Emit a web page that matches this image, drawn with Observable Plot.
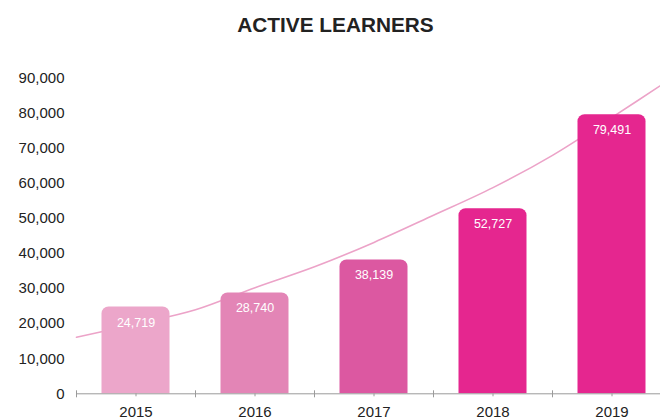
<!DOCTYPE html>
<html>
<head>
<meta charset="utf-8">
<script src="https://cdn.jsdelivr.net/npm/d3@7"></script>
<script src="https://cdn.jsdelivr.net/npm/@observablehq/plot@0.6"></script>
<style>
  html, body { margin: 0; padding: 0; background: #fff; overflow: hidden; }
  body { width: 660px; height: 419px; font-family: "Liberation Sans", Arial, sans-serif; }
  #title { height: 50px; line-height: 50px; text-align: center; font-weight: bold; font-size: 20.8px; color: #222; padding-left: 11px; }
</style>
</head>
<body>
<div id="title">ACTIVE LEARNERS</div>
<div id="chart"></div>
<script>
const years = [2015, 2016, 2017, 2018, 2019];
const learners = [24719, 28740, 38139, 52727, 79491];
const barColors = ["#eca6ca", "#e385b6", "#dc58a1", "#e5268f", "#e5268f"];
const yTicks = [0, 10000, 20000, 30000, 40000, 50000, 60000, 70000, 80000, 90000];
// trend line (position on the year axis, value)
const trendPos = [2014.5, 2015, 2015.5, 2016, 2016.5, 2017, 2017.5, 2018, 2018.5, 2019, 2019.5];
const trendVal = [16090, 19850, 23920, 30220, 36170, 43120, 50840, 58720, 67920, 78720, 89850];
const bandEdges = [2014.5, 2015.5, 2016.5, 2017.5, 2018.5];

const bars = years.map((year, i) => ({year, value: learners[i]}));
const trend = trendPos.map((x, i) => ({x, value: trendVal[i]}));
const fmt = d3.format(",");

const chart = Plot.plot({
  width: 660,
  height: 369,
  marginLeft: 76,
  marginRight: 0,
  marginTop: 27.3,
  marginBottom: 25.7,
  style: {fontSize: "15px", fontFamily: "Liberation Sans, Arial, sans-serif", color: "#222", background: "transparent"},
  x: {domain: [2014.5, 2019.5], range: [76, 671]},
  y: {domain: [0, 90000]},
  color: {domain: years, range: barColors},
  marks: [
    Plot.line(trend, {x: "x", y: "value", stroke: "#eca3c8", strokeWidth: 1.6, curve: "catmull-rom"}),
    Plot.rectY(bars, {
      x1: d => d.year - 0.5, x2: d => d.year + 0.5, y: "value",
      fill: "year", insetLeft: 25.5, insetRight: 25.5, ry2: 7
    }),
    Plot.text(bars, {
      x: "year", y: "value", text: d => fmt(d.value),
      fill: "white", fontSize: 12.5, dy: 15.5
    }),
    Plot.ruleY([0], {stroke: "#9a9a9a", strokeWidth: 1}),
    Plot.axisY({ticks: yTicks, tickFormat: d => fmt(d), tickSize: 0, tickPadding: 12, label: null, fill: "#222"}),
    Plot.axisX({ticks: bandEdges, tickSize: 7, dy: -3, tickFormat: () => "", stroke: "#9a9a9a", label: null}),
    Plot.axisX({ticks: years, tickSize: 3, tickPadding: 10, tickFormat: "d", stroke: "#9a9a9a", fill: "#222", label: null})
  ]
});
document.getElementById("chart").appendChild(chart);
</script>
</body>
</html>
